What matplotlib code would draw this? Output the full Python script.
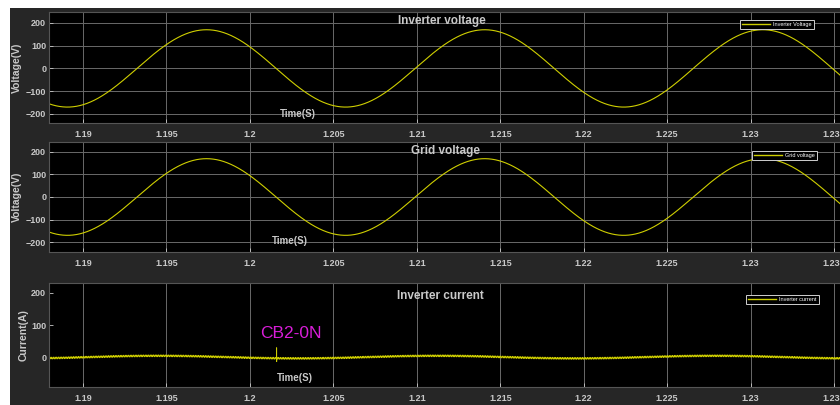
import numpy as np
import matplotlib
matplotlib.use("Agg")
import matplotlib.pyplot as plt
from matplotlib.lines import Line2D

plt.rcParams['font.family'] = ['Liberation Sans', 'DejaVu Sans']

# ---- waveform parameters ----
t_start, t_end = 1.18796, 1.23548
x_ticks = [1.19, 1.195, 1.2, 1.205, 1.21, 1.215, 1.22, 1.225, 1.23, 1.235]
x_ticklabels = ['1.19', '1.195', '1.2', '1.205', '1.21', '1.215', '1.22', '1.225', '1.23', '1.235']
v_ticks = [-200, -100, 0, 100, 200]
i_ticks = [0, 100, 200]

grid_freq_hz = 60.0
inverter_v_peak = 170.0          # V
inverter_v_peak_time = 1.1974    # s, time of a positive crest
grid_v_peak = 170.0              # V
grid_v_peak_time = 1.1974        # s

current_offset = 2.0             # A
current_fund_amp = 4.0           # A, 60 Hz component
current_fund_peak_time = 1.1945  # s
ripple_amp = 3.0                 # A, switching ripple
ripple_freq_hz = 10000.0

cb2_on_time = 1.2016             # s, breaker CB2 closing instant
cb2_spike = [31.0, -12.0]        # A, transient excursions at closing

t = np.linspace(t_start, t_end, 20000)
w = 2 * np.pi * grid_freq_hz
v_inv = inverter_v_peak * np.cos(w * (t - inverter_v_peak_time))
v_grid = grid_v_peak * np.cos(w * (t - grid_v_peak_time))
i_inv = (current_offset
         + current_fund_amp * np.cos(w * (t - current_fund_peak_time))
         + ripple_amp * np.sin(2 * np.pi * ripple_freq_hz * t))
k = np.searchsorted(t, cb2_on_time)
i_inv[k] = cb2_spike[0]
i_inv[k + 1] = cb2_spike[1]

# ---- styling ----
fig_bg = '#262626'
txt = '#c9c9c9'
trace = '#cfcf00'
grid_c = '#6a6a6a'

fig = plt.figure(figsize=(8.4, 4.05), dpi=100)
fig.patch.set_facecolor('white')
# dark scope frame, leaving a thin white margin at left and top
fig.add_artist(plt.Rectangle((10 / 840, 0), 1, (405 - 8) / 405,
                             transform=fig.transFigure, facecolor=fig_bg,
                             edgecolor='none', zorder=0))

L = 49 / 840
W = (842 - 49) / 840
ax1 = fig.add_axes([L, 282 / 405, W, 111 / 405])
ax2 = fig.add_axes([L, 153 / 405, W, 110 / 405])
ax3 = fig.add_axes([L, 18 / 405, W, 104 / 405])


def style(ax, yticks, ylim, ylabel, hgrid=True):
    ax.set_facecolor('black')
    ax.set_xlim(t_start, t_end)
    ax.set_ylim(*ylim)
    ax.set_xticks(x_ticks)
    ax.set_xticklabels(x_ticklabels)
    ax.set_yticks(yticks)
    ax.tick_params(axis='both', colors=txt, labelsize=6.5, direction='in',
                   length=3, width=0.6, pad=2)
    ax.tick_params(axis='x', pad=5)
    for lab in ax.get_xticklabels() + ax.get_yticklabels():
        lab.set_fontweight('bold')
    for s in ax.spines.values():
        s.set_color('#555555')
        s.set_linewidth(0.8)
    ax.grid(True, axis='x', color=grid_c, linewidth=0.7)
    if hgrid:
        ax.grid(True, axis='y', color=grid_c, linewidth=0.7)
    ax.set_axisbelow(True)
    ax.set_ylabel(ylabel, color=txt, fontsize=7.5, fontweight='bold', labelpad=2)


style(ax1, v_ticks, (-240, 248), 'Voltage(V)')
style(ax2, v_ticks, (-244, 244), 'Voltage(V)')
style(ax3, i_ticks, (-90, 230), 'Current(A)', hgrid=False)
for ax in (ax1, ax2):
    ax.yaxis.set_label_coords(-0.034, 0.5)
ax3.yaxis.set_label_coords(-0.026, 0.5)

ax1.plot(t, v_inv, color=trace, linewidth=0.8)
ax2.plot(t, v_grid, color=trace, linewidth=0.8)
ax3.plot(t, i_inv, color=trace, linewidth=0.6)

title_kw = dict(color=txt, fontsize=8.5, fontweight='bold', ha='center', va='center')
ax1.text(0.496, 0.92, 'Inverter voltage', transform=ax1.transAxes, **title_kw)
ax2.text(0.50, 0.918, 'Grid voltage', transform=ax2.transAxes, **title_kw)
ax3.text(0.494, 0.875, 'Inverter current', transform=ax3.transAxes, **title_kw)

time_kw = dict(color=txt, fontsize=7, fontweight='bold', ha='left', va='center')
ax1.text(0.291, 0.08, 'Time(S)', transform=ax1.transAxes, **time_kw)
ax2.text(0.281, 0.10, 'Time(S)', transform=ax2.transAxes, **time_kw)
ax3.text(0.2875, 0.087, 'Time(S)', transform=ax3.transAxes, **time_kw)

ax3.text(0.266, 0.51, 'CB2-0N', transform=ax3.transAxes, color='#d81ed8',
         fontsize=12.5, ha='left', va='center')


def legend(ax, label, anchor):
    h = [Line2D([0], [0], color=trace, linewidth=1.0)]
    lg = ax.legend(h, [label], loc='upper right', bbox_to_anchor=anchor,
                   fontsize=4, handlelength=5, handletextpad=0.6,
                   borderpad=0.35, fancybox=False, framealpha=1,
                   facecolor='black', edgecolor='#d0d0d0', labelcolor='white')
    lg.get_frame().set_linewidth(0.7)


legend(ax1, 'Inverter Voltage', (0.968, 0.955))
legend(ax2, 'Grid voltage', (0.972, 0.945))
legend(ax3, 'Inverter current', (0.974, 0.913))

fig.savefig('out.png', dpi=100, facecolor=fig.get_facecolor())
